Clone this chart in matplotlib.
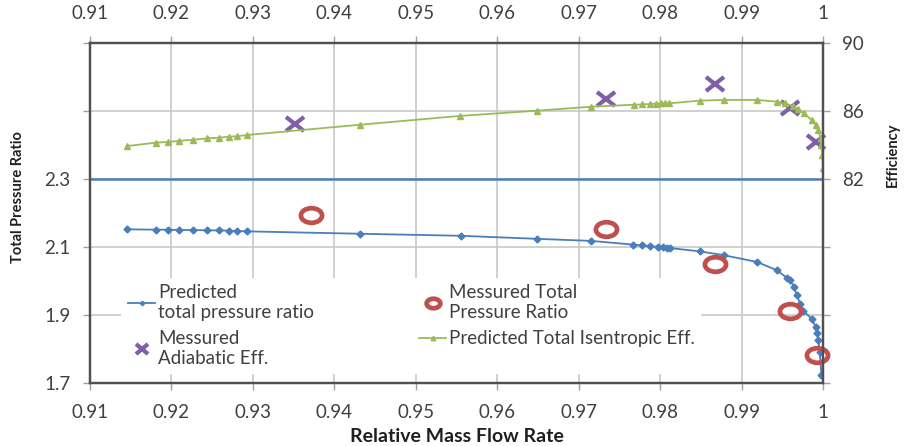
import numpy as np
import matplotlib
matplotlib.use("Agg")
import matplotlib.pyplot as plt
from matplotlib.markers import MarkerStyle
from matplotlib.transforms import Affine2D

# predicted total pressure ratio
x_pr = [0.9146, 0.9181, 0.9196, 0.9209, 0.9226, 0.9244, 0.9258, 0.9271, 0.9280, 0.9293,
        0.9431, 0.9555, 0.9649, 0.9715, 0.9767, 0.9778, 0.9787, 0.9797, 0.9803, 0.9808,
        0.9812, 0.9849, 0.9878, 0.9919, 0.9943, 0.9956, 0.9960, 0.9964, 0.9968, 0.9972,
        0.9976, 0.9986, 0.9991, 0.9993, 0.9994, 0.9996, 0.9998]
y_pr = [2.152, 2.151, 2.151, 2.150, 2.150, 2.149, 2.149, 2.148, 2.147, 2.146,
        2.139, 2.133, 2.124, 2.118, 2.107, 2.105, 2.103, 2.100, 2.099, 2.098,
        2.097, 2.087, 2.076, 2.056, 2.032, 2.009, 2.003, 1.982, 1.959, 1.932,
        1.912, 1.889, 1.865, 1.847, 1.826, 1.791, 1.725]

# predicted total isentropic efficiency
x_eff = [0.9146, 0.9181, 0.9196, 0.9209, 0.9226, 0.9244, 0.9258, 0.9271, 0.9280, 0.9293,
         0.9431, 0.9554, 0.9649, 0.9715, 0.9768, 0.9778, 0.9787, 0.9795, 0.9801, 0.9806,
         0.9811, 0.9849, 0.9878, 0.9919, 0.9943, 0.9953, 0.9963, 0.9969, 0.9977, 0.9986,
         0.9991, 0.9994, 0.9997, 0.9998, 0.9999, 1.0000]
y_eff = [83.94, 84.14, 84.18, 84.24, 84.31, 84.39, 84.43, 84.49, 84.51, 84.59,
         85.19, 85.71, 86.02, 86.25, 86.37, 86.39, 86.41, 86.43, 86.45, 86.45,
         86.45, 86.61, 86.65, 86.65, 86.55, 86.45, 86.29, 86.12, 85.86, 85.47,
         85.18, 84.88, 84.41, 84.00, 83.40, 82.65]

# measured total pressure ratio
x_mpr = [0.9371, 0.9734, 0.9867, 0.9959, 0.9993]
y_mpr = [2.194, 2.154, 2.050, 1.913, 1.782]

# measured adiabatic efficiency
x_meff = [0.9352, 0.9733, 0.9867, 0.9959, 0.9992]
y_meff = [85.24, 86.72, 87.59, 86.16, 84.20]

x_ticks = [0.91, 0.92, 0.93, 0.94, 0.95, 0.96, 0.97, 0.98, 0.99, 1.0]
x_labels = ["0.91", "0.92", "0.93", "0.94", "0.95", "0.96", "0.97", "0.98", "0.99", "1"]
y_ticks = [1.7, 1.9, 2.1, 2.3, 2.5, 2.7]
y_labels = ["1.7", "1.9", "2.1", "2.3", "", ""]
e_ticks = [70, 74, 78, 82, 86, 90]
e_labels = ["", "", "", "82", "86", "90"]

blue = "#4A7EBB"
green = "#9BBB59"
purple = "#7F5FA8"
red = "#C0504D"
txt = "#404040"

plt.rcParams["font.family"] = ["Lato", "DejaVu Sans"]

fig = plt.figure(figsize=(9.06, 4.46), dpi=100)
ax = fig.add_axes([90 / 906, 1 - 383 / 446, 733 / 906, 340 / 446])
ax2 = ax.twinx()

ax.set_xlim(0.91, 1.0)
ax.set_ylim(1.7, 2.7)
ax2.set_ylim(70, 90)

ax.set_xticks(x_ticks)
ax.set_xticklabels(x_labels)
ax.set_yticks(y_ticks)
ax.set_yticklabels(y_labels)
ax2.set_yticks(e_ticks)
ax2.set_yticklabels(e_labels)

ax.grid(True, color="#C8C8C8", lw=1.2)
ax.set_axisbelow(True)
ax.axhline(2.3, color=blue, lw=1.8, zorder=1.5)

ax.tick_params(axis="x", top=True, labeltop=True, direction="out", length=5,
               width=1, color="#A0A0A0", labelsize=13.5, labelcolor=txt, pad=10)
ax.tick_params(axis="y", direction="out", length=5, width=1, color="#A0A0A0",
               labelsize=13.5, labelcolor=txt, pad=9)
ax2.tick_params(axis="y", direction="out", length=5, width=1, color="#A0A0A0",
                labelsize=13.5, labelcolor=txt, pad=9)

for a in (ax, ax2):
    for s in a.spines.values():
        s.set_color("#505050")
        s.set_linewidth(1.6)

ell = MarkerStyle("o", transform=Affine2D().scale(1.45, 1.0))
crs = MarkerStyle("x", transform=Affine2D().scale(1.35, 1.0))

l1, = ax.plot(x_pr, y_pr, color=blue, lw=1.3, marker="D", ms=3.5, mec=blue, mfc=blue)
l2, = ax.plot(x_mpr, y_mpr, ls="none", marker=ell, ms=10.5, mfc="none", mec=red, mew=3.4,
              clip_on=False)
l3, = ax2.plot(x_meff, y_meff, ls="none", marker=crs, ms=10, mec=purple, mew=3,
               clip_on=False)
l4, = ax2.plot(x_eff, y_eff, color=green, lw=1.3, marker="^", ms=5, mec=green, mfc=green)

fig.text(457 / 906, 1 - 437 / 446, "Relative Mass Flow Rate", fontsize=14,
         fontweight="bold", color="#202020", ha="center", va="center")
fig.text(18 / 906, 1 - 197 / 446, "Total Pressure Ratio", fontsize=10.5,
         fontweight="bold", color="#202020", ha="center", va="center", rotation=90)
fig.text(893 / 906, 1 - 155 / 446, "Efficiency", fontsize=10.5,
         fontweight="bold", color="#202020", ha="center", va="center", rotation=90)

leg = ax2.legend([l1, l3, l2, l4],
                 ["Predicted\ntotal pressure ratio", "Messured\nAdiabatic Eff.",
                  "Messured Total\nPressure Ratio", "Predicted Total Isentropic Eff."],
                 ncol=2, loc="lower left", bbox_to_anchor=(0.03, 0.0), fontsize=13.5,
                 frameon=True, fancybox=False, framealpha=1, facecolor="white",
                 edgecolor="none", handlelength=1.45, handletextpad=0.15,
                 columnspacing=5.6, labelspacing=0.5, borderpad=0.35)
for t in leg.get_texts():
    t.set_color(txt)
for h in leg.legend_handles:
    h.set_markersize(h.get_markersize() * 0.65)

fig.savefig("out.png", dpi=100)
